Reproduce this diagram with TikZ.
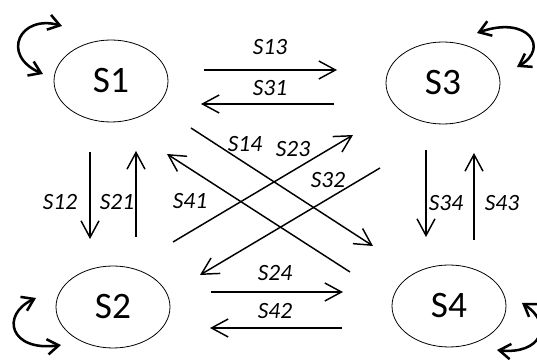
\documentclass[tikz,border=0pt]{standalone}
\usepackage{fontspec}
\setmainfont{Carlito}
\usetikzlibrary{shapes.geometric,arrows.meta}
\tikzset{
  state/.style={draw, ellipse, line width=0.6pt, minimum width=85.5pt, minimum height=61.5pt, inner sep=0pt, font=\fontsize{28}{30}\selectfont},
  trans/.style={line width=1.1pt, -{Straight Barb[length=12.5pt,width=13.5pt,line width=1.1pt]}},
  loopar/.style={line width=1.9pt, {Straight Barb[length=8.5pt,width=11.5pt,line width=1.9pt]}-{Straight Barb[length=8.5pt,width=11.5pt,line width=1.9pt]}},
  lab/.style={inner sep=0pt, font=\fontsize{17.5}{20}\selectfont\itshape}
}
\begin{document}
\begin{tikzpicture}[x=0.75pt,y=-0.75pt]
\useasboundingbox (0,0) rectangle (537,363);
% states
\node[state] (S1) at (111,81) {S1};
\node[state] (S3) at (443,83) {S3};
\node[state] (S2) at (113,307) {S2};
\node[state] (S4) at (449,306) {S4};
% arrow end points
\coordinate (a13) at (204,70);  \coordinate (b13) at (337,70);
\coordinate (a31) at (334,104); \coordinate (b31) at (201,104);
\coordinate (a14) at (191,128); \coordinate (b14) at (373,246);
\coordinate (a41) at (350,272); \coordinate (b41) at (167,154);
\coordinate (a23) at (173,242); \coordinate (b23) at (353,135);
\coordinate (a32) at (380,168); \coordinate (b32) at (200,275);
\coordinate (a24) at (211,292); \coordinate (b24) at (343,292);
\coordinate (a42) at (342,328); \coordinate (b42) at (210,328);
\coordinate (a12) at (90,152);  \coordinate (b12) at (90,239);
\coordinate (a21) at (136,237); \coordinate (b21) at (136,151);
\coordinate (a34) at (426,150); \coordinate (b34) at (426,237);
\coordinate (a43) at (474,240); \coordinate (b43) at (474,153);
\foreach \n in {13,31,14,41,23,32,24,42,12,21,34,43}{
  \draw[trans] (a\n) -- (b\n);
}
% labels
\node[lab] (l13) at (270,47) {S13};
\node[lab] (l31) at (270,88.5) {S31};
\node[lab] (l14) at (245,144.5) {S14};
\node[lab] (l23) at (293,149.5) {S23};
\node[lab] (l32) at (328,180) {S32};
\node[lab] (l41) at (190,201) {S41};
\node[lab] (l24) at (275,273) {S24};
\node[lab] (l42) at (275,311) {S42};
\node[lab] (l12) at (60,202) {S12};
\node[lab] (l21) at (117,202) {S21};
\node[lab] (l34) at (446,203) {S34};
\node[lab] (l43) at (502,203) {S43};
% self loops
\coordinate (p1a) at (62,26);  \coordinate (p1b) at (43,74);
\coordinate (p3a) at (477,33); \coordinate (p3b) at (517,67);
\coordinate (p2a) at (36,298); \coordinate (p2b) at (61,345);
\coordinate (p4a) at (522,303);\coordinate (p4b) at (497,350);
\draw[loopar] (p1a) .. controls (20,14) and (0,55) .. (p1b);
\draw[loopar] (p3a) .. controls (528,15) and (550,48) .. (p3b);
\draw[loopar] (p2a) .. controls (0,315) and (10,352) .. (p2b);
\draw[loopar] (p4a) .. controls (555,325) and (540,355) .. (p4b);
\end{tikzpicture}
\end{document}
